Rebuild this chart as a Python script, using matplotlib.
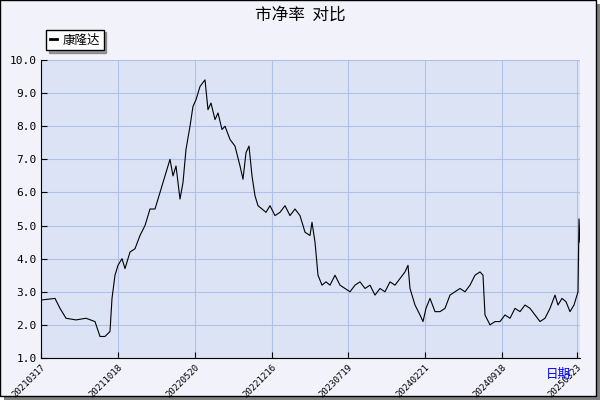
import matplotlib
matplotlib.use("Agg")
import matplotlib.pyplot as plt
from matplotlib.patches import Rectangle

plt.rcParams['font.family'] = ['Noto Sans CJK SC', 'DejaVu Sans']

pos = [41,55,60,66,76,86,95,100,105,110,112,115,118,122,125,130,135,140,145,150,155,160,165,170,173,176,180,183,186,190,193,196,200,205,208,211,215,218,222,225,230,235,240,243,246,249,252,255,258,262,266,270,275,280,285,290,295,300,305,310,312,315,318,322,326,330,335,340,345,350,355,360,365,370,375,380,385,390,395,400,405,408,410,415,420,423,426,430,435,440,445,450,455,460,465,470,475,480,483,485,490,495,500,505,510,515,520,525,530,535,540,545,550,555,558,562,566,570,574,578,579,580]
val = [2.75,2.8,2.5,2.2,2.15,2.2,2.1,1.65,1.65,1.8,2.8,3.5,3.8,4.0,3.7,4.2,4.3,4.7,5.0,5.5,5.5,6.0,6.5,7.0,6.5,6.8,5.8,6.3,7.3,8.0,8.6,8.8,9.2,9.4,8.5,8.7,8.2,8.4,7.9,8.0,7.6,7.4,6.8,6.4,7.2,7.4,6.5,5.9,5.6,5.5,5.4,5.6,5.3,5.4,5.6,5.3,5.5,5.3,4.8,4.7,5.1,4.5,3.5,3.2,3.3,3.2,3.5,3.2,3.1,3.0,3.2,3.3,3.1,3.2,2.9,3.1,3.0,3.3,3.2,3.4,3.6,3.8,3.1,2.6,2.3,2.1,2.5,2.8,2.4,2.4,2.5,2.9,3.0,3.1,3.0,3.2,3.5,3.6,3.5,2.3,2.0,2.1,2.1,2.3,2.2,2.5,2.4,2.6,2.5,2.3,2.1,2.2,2.5,2.9,2.6,2.8,2.7,2.4,2.6,3.0,5.2,4.5]
tick_pos = [41,118,195,272,348,425,502,577]
tick_labels = ['20210317','20211018','20220520','20221216','20230719','20240221','20240918','20250323']

fig = plt.figure(figsize=(6,4), dpi=100, facecolor='white')
fig.patches.append(Rectangle((4/600,0), 596/600, 396/400, transform=fig.transFigure, facecolor='#808080', edgecolor='none', zorder=-2))
fig.patches.append(Rectangle((0,4/400), 596/600, 396/400, transform=fig.transFigure, facecolor='#f2f2fa', edgecolor='black', lw=1, zorder=-1))
ax = fig.add_axes([41/600, 42/400, 539/600, 298/400])
ax.set_facecolor('#dce3f5')
ax.plot(pos, val, color='black', lw=0.8, label='康隆达')
ax.set_xlim(41, 580)
ax.set_ylim(1, 10)
ax.set_yticks([1+i for i in range(10)])
ax.set_yticklabels([f'{1+i:.1f}' for i in range(10)], fontsize=8, family='DejaVu Sans Mono')
ax.set_xticks(tick_pos)
ax.set_xticklabels(tick_labels, rotation=45, fontsize=6.5, ha='right', rotation_mode='anchor', family='DejaVu Sans Mono')
ax.grid(True, color='#b0c0e8', lw=0.8)
for s in ['top','right']:
    ax.spines[s].set_visible(False)
ax.tick_params(length=4, direction='in', pad=3)
fig.text(0.5, 0.962, '市净率  对比', ha='center', va='center', fontsize=12)
fig.text(0.93, 0.055, '日期', color='blue', fontsize=9, ha='center')
leg = ax.legend(loc='lower left', bbox_to_anchor=(-0.002, 1.012), fontsize=9, frameon=True, fancybox=False, shadow=True, handlelength=0.6, handletextpad=0.4, borderpad=0.3)
leg.get_frame().set_edgecolor('black')
for l in leg.get_lines():
    l.set_linewidth(2)
fig.savefig('out.png', dpi=100, facecolor='white')
